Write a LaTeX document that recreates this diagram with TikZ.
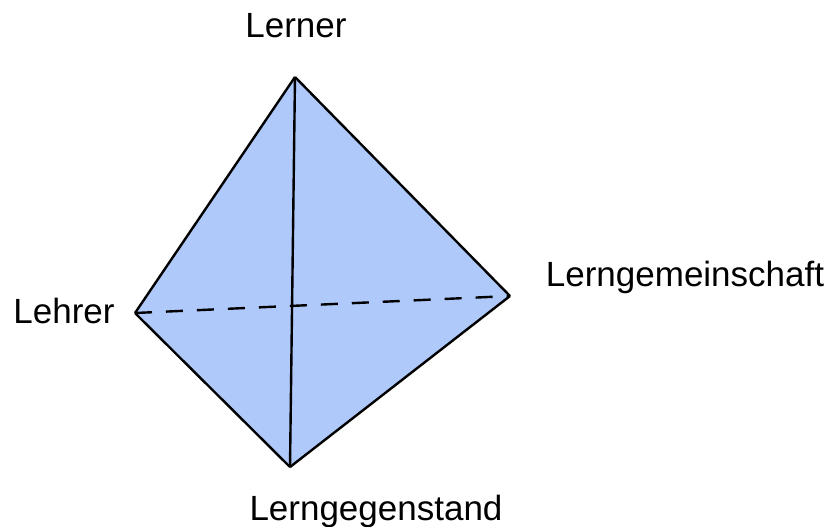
\documentclass[tikz,border=0pt]{standalone}
\usepackage{fontspec}
\setmainfont{Liberation Sans}
\definecolor{facefill}{RGB}{175,201,250}
\begin{document}
\begin{tikzpicture}[
  x=0.5pt, y=-0.5pt,
  lbl/.style={anchor=base, inner sep=0pt, font=\fontsize{17.5}{21}\selectfont},
  edge/.style={line width=1.2pt, draw=black},
  hidden/.style={line width=1.2pt, draw=black, dash pattern=on 8.5pt off 7pt}
]
  \useasboundingbox (0,0) rectangle (831,526);

  % Ecken des Tetraeders
  \coordinate (lerner) at (295,77);
  \coordinate (lehrer) at (135,313);
  \coordinate (gemeinschaft) at (510,296);
  \coordinate (gegenstand) at (290,467);

  % Flaeche
  \fill[facefill] (lerner) -- (gemeinschaft) -- (gegenstand) -- (lehrer) -- cycle;

  % Kanten
  \draw[hidden] (lehrer) -- (gemeinschaft);
  \draw[edge] (lerner) -- (lehrer);
  \draw[edge] (lerner) -- (gemeinschaft);
  \draw[edge] (lerner) -- (gegenstand);
  \draw[edge] (lehrer) -- (gegenstand);
  \draw[edge] (gemeinschaft) -- (gegenstand);

  % Beschriftungen
  \node[lbl] (tLerner) at (296,37) {Lerner};
  \node[lbl] (tLehrer) at (64,323) {Lehrer};
  \node[lbl] (tGemeinschaft) at (685,286) {Lerngemeinschaft};
  \node[lbl] (tGegenstand) at (376,520) {Lerngegenstand};
\end{tikzpicture}
\end{document}
